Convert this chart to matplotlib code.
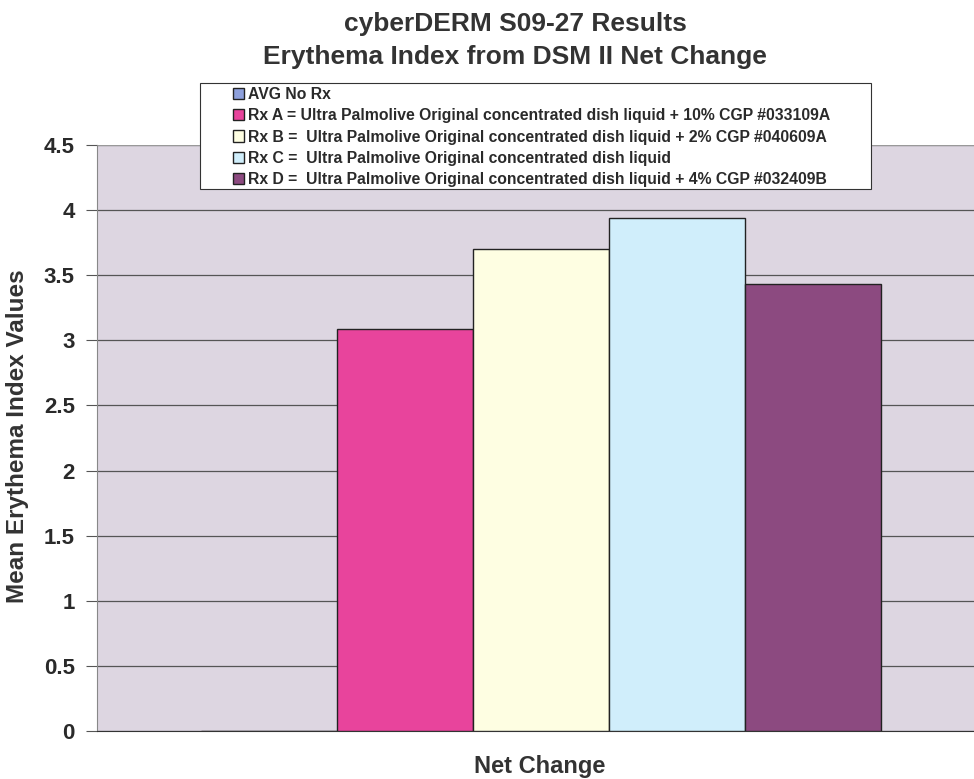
import numpy as np
import matplotlib
matplotlib.use('Agg')
import matplotlib.pyplot as plt
from matplotlib.patches import Rectangle

plt.rcParams['font.family'] = ['Liberation Sans', 'DejaVu Sans']
plt.rcParams['font.weight'] = 'bold'

# data
series = [
    'AVG No Rx',
    'Rx A = Ultra Palmolive Original concentrated dish liquid + 10% CGP #033109A',
    'Rx B =  Ultra Palmolive Original concentrated dish liquid + 2% CGP #040609A',
    'Rx C =  Ultra Palmolive Original concentrated dish liquid',
    'Rx D =  Ultra Palmolive Original concentrated dish liquid + 4% CGP #032409B',
]
values = [0.0, 3.09, 3.70, 3.94, 3.43]
colors = ['#8ea0dc', '#e8449c', '#fefee2', '#d0eefb', '#8c4a80']
category = 'Net Change'
yticks = [0, 0.5, 1, 1.5, 2, 2.5, 3, 3.5, 4, 4.5]

W, H = 974, 779
fig = plt.figure(figsize=(W / 100, H / 100), dpi=100)
ax = fig.add_axes([97 / W, 1 - 731 / H, (985 - 97) / W, (731 - 145) / H])
ax.set_facecolor('#ddd6e1')

w = 0.153
for i in range(len(values)):
    x = (i - 2) * w
    ax.bar(x, values[i], width=w, color=colors[i], edgecolor='#222222',
           linewidth=1.0, label=series[i], zorder=3)

ax.set_xlim(-0.5, 0.5)
ax.set_ylim(0, 4.5)
ax.set_yticks(yticks)
ax.set_yticklabels(['%g' % t for t in yticks], fontsize=16, fontweight='bold', color='#2a2a2a')
ax.tick_params(axis='y', length=8, width=0.8, color='#555555', pad=8)
ax.set_xticks([])
ax.yaxis.grid(True, color='#555555', linewidth=0.9, zorder=1)
for s in ['top', 'right']:
    ax.spines[s].set_visible(False)
ax.spines['left'].set_color('#888888')
ax.spines['bottom'].set_color('#333333')
ax.axhline(4.5, color='#999999', linewidth=0.8, zorder=2)

fig.text(18 / W, 1 - 436 / H, 'Mean Erythema Index Values', rotation=90,
         ha='center', va='center', fontsize=17.5, fontweight='bold', color='#333333')
fig.text(540 / W, 1 - 766 / H, category, ha='center', va='center',
         fontsize=17, fontweight='bold', color='#333333')

fig.text(515 / W, 1 - 24 / H, 'cyberDERM S09-27 Results', ha='center', va='center',
         fontsize=19, fontweight='bold', color='#333333')
fig.text(515 / W, 1 - 57 / H, 'Erythema Index from DSM II Net Change', ha='center', va='center',
         fontsize=19, fontweight='bold', color='#333333')

# legend box drawn by hand so padding matches the original
box = Rectangle((200 / W, 1 - 189 / H), (871 - 200) / W, (189 - 83) / H,
                transform=fig.transFigure, facecolor='white', edgecolor='#333333',
                linewidth=0.8, zorder=5)
fig.patches.append(box)

leg = fig.legend(loc='upper left', bbox_to_anchor=(233 / W, 1 - 87 / H),
                 fontsize=11.3, frameon=False,
                 handlelength=0.72, handleheight=0.72, handletextpad=0.25,
                 labelspacing=0.4, borderpad=0, borderaxespad=0)
leg.set_zorder(6)
for t in leg.get_texts():
    t.set_color('#2a2a2a')
    t.set_fontweight('bold')

fig.savefig('out.png', dpi=100)
